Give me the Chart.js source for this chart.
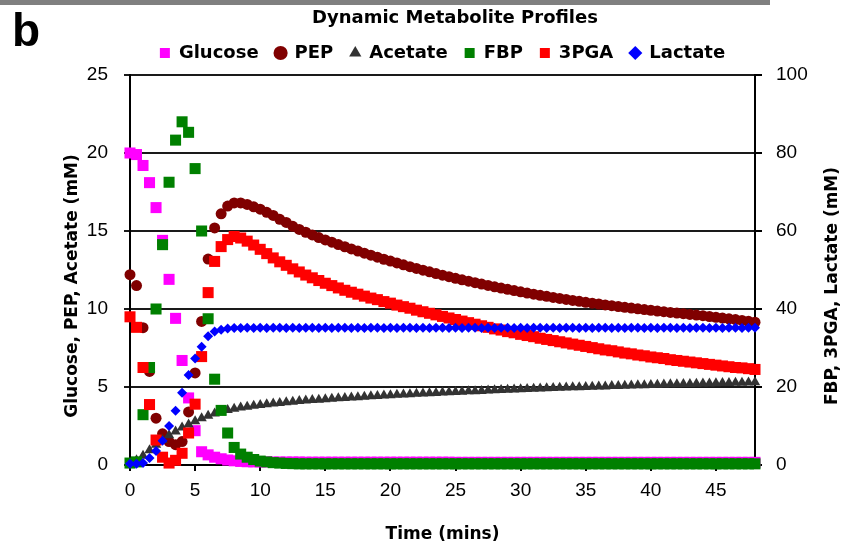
<!DOCTYPE html>
<html>
<head>
<meta charset="utf-8">
<title>Dynamic Metabolite Profiles</title>
<script src="https://cdn.jsdelivr.net/npm/chart.js@4.4.0/dist/chart.umd.min.js"></script>
<style>
  html, body { margin: 0; padding: 0; background: #fff; }
  #chart { display: block; }
</style>
</head>
<body>
<canvas id="chart" width="851" height="548"></canvas>
<script>
// sampling times (mins)
var times = [
  0, 0.5, 1, 1.5, 2, 2.5, 3, 3.5, 4, 4.5,
  5, 5.5, 6, 6.5, 7, 7.5, 8, 8.5, 9, 9.5,
  10, 10.5, 11, 11.5, 12, 12.5, 13, 13.5, 14, 14.5,
  15, 15.5, 16, 16.5, 17, 17.5, 18, 18.5, 19, 19.5,
  20, 20.5, 21, 21.5, 22, 22.5, 23, 23.5, 24, 24.5,
  25, 25.5, 26, 26.5, 27, 27.5, 28, 28.5, 29, 29.5,
  30, 30.5, 31, 31.5, 32, 32.5, 33, 33.5, 34, 34.5,
  35, 35.5, 36, 36.5, 37, 37.5, 38, 38.5, 39, 39.5,
  40, 40.5, 41, 41.5, 42, 42.5, 43, 43.5, 44, 44.5,
  45, 45.5, 46, 46.5, 47, 47.5, 48
];

// left axis (mM)
var glucose = [
  20.0, 19.9, 19.2, 18.1, 16.5, 14.4, 11.9, 9.4, 6.7, 4.3,
  2.2, 0.85, 0.65, 0.5, 0.4, 0.32, 0.27, 0.23, 0.21, 0.2,
  0.2, 0.2, 0.19, 0.19, 0.19, 0.19, 0.19, 0.18, 0.18, 0.18,
  0.18, 0.18, 0.18, 0.18, 0.18, 0.18, 0.18, 0.18, 0.18, 0.18,
  0.18, 0.18, 0.18, 0.18, 0.18, 0.18, 0.18, 0.18, 0.18, 0.18,
  0.17, 0.17, 0.17, 0.17, 0.17, 0.17, 0.17, 0.17, 0.17, 0.17,
  0.17, 0.17, 0.17, 0.17, 0.17, 0.17, 0.17, 0.17, 0.17, 0.17,
  0.17, 0.17, 0.17, 0.17, 0.17, 0.17, 0.17, 0.17, 0.17, 0.17,
  0.17, 0.17, 0.17, 0.17, 0.17, 0.17, 0.17, 0.17, 0.17, 0.17,
  0.17, 0.17, 0.17, 0.17, 0.17, 0.17, 0.17
];
var pep = [
  12.2, 11.5, 8.8, 6.0, 3.0, 2.0, 1.5, 1.3, 1.5, 3.4,
  5.9, 9.2, 13.2, 15.2, 16.1, 16.6, 16.8, 16.8, 16.7, 16.55,
  16.4, 16.2, 16.0, 15.75, 15.55, 15.3, 15.1, 14.92, 14.75, 14.58,
  14.43, 14.28, 14.13, 13.99, 13.85, 13.71, 13.58, 13.45, 13.32, 13.19,
  13.07, 12.95, 12.83, 12.71, 12.6, 12.49, 12.38, 12.27, 12.17, 12.07,
  11.97, 11.87, 11.78, 11.69, 11.6, 11.51, 11.42, 11.34, 11.26, 11.18,
  11.1, 11.02, 10.95, 10.88, 10.81, 10.74, 10.68, 10.61, 10.55, 10.49,
  10.43, 10.37, 10.32, 10.26, 10.21, 10.16, 10.11, 10.06, 10.01, 9.96,
  9.92, 9.87, 9.83, 9.78, 9.74, 9.7, 9.65, 9.61, 9.57, 9.52,
  9.47, 9.42, 9.37, 9.32, 9.27, 9.21, 9.15
];
var acetate = [
  0.1, 0.3, 0.6, 0.95, 1.3, 1.6, 1.9, 2.15, 2.4, 2.6,
  2.8, 3.0, 3.15, 3.3, 3.42, 3.52, 3.6, 3.68, 3.74, 3.8,
  3.85, 3.9, 3.94, 3.98, 4.02, 4.06, 4.1, 4.13, 4.16, 4.19,
  4.22, 4.25, 4.28, 4.3, 4.33, 4.35, 4.38, 4.4, 4.43, 4.45,
  4.47, 4.5, 4.52, 4.54, 4.56, 4.58, 4.6, 4.62, 4.64, 4.66,
  4.68, 4.7, 4.72, 4.73, 4.75, 4.77, 4.79, 4.8, 4.82, 4.84,
  4.85, 4.87, 4.88, 4.9, 4.92, 4.93, 4.95, 4.96, 4.98, 4.99,
  5.0, 5.02, 5.03, 5.04, 5.06, 5.07, 5.08, 5.1, 5.11, 5.12,
  5.13, 5.15, 5.16, 5.17, 5.18, 5.19, 5.2, 5.21, 5.22, 5.23,
  5.24, 5.25, 5.26, 5.27, 5.28, 5.29, 5.3
];

// right axis (mM)
var fbp = [
  0.5, 0.8, 12.9, 25.0, 40.0, 56.5, 72.5, 83.3, 88.0, 85.3,
  76.0, 60.0, 37.5, 22.0, 14.0, 8.2, 4.5, 2.8, 2.0, 1.4,
  1.0, 0.8, 0.6, 0.5, 0.4, 0.35, 0.3, 0.3, 0.3, 0.3,
  0.3, 0.3, 0.3, 0.3, 0.3, 0.3, 0.3, 0.3, 0.3, 0.3,
  0.3, 0.3, 0.3, 0.3, 0.3, 0.3, 0.3, 0.3, 0.3, 0.3,
  0.3, 0.3, 0.3, 0.3, 0.3, 0.3, 0.3, 0.3, 0.3, 0.3,
  0.3, 0.3, 0.3, 0.3, 0.3, 0.3, 0.3, 0.3, 0.3, 0.3,
  0.3, 0.3, 0.3, 0.3, 0.3, 0.3, 0.3, 0.3, 0.3, 0.3,
  0.3, 0.3, 0.3, 0.3, 0.3, 0.3, 0.3, 0.3, 0.3, 0.3,
  0.3, 0.3, 0.3, 0.3, 0.3, 0.3, 0.3
];
var pga3 = [
  38.0, 35.3, 25.0, 15.5, 6.4, 2.0, 0.5, 1.2, 3.0, 8.2,
  15.6, 27.8, 44.2, 52.2, 56.0, 57.8, 58.6, 58.2, 57.4, 56.4,
  55.3, 54.2, 53.1, 52.1, 51.2, 50.3, 49.5, 48.7, 48.0, 47.3,
  46.6, 46.0, 45.4, 44.8, 44.3, 43.8, 43.3, 42.8, 42.4, 41.9,
  41.5, 41.0, 40.6, 40.2, 39.7, 39.3, 38.9, 38.5, 38.1, 37.7,
  37.3, 36.9, 36.5, 36.1, 35.7, 35.3, 34.9, 34.6, 34.2, 33.9,
  33.5, 33.2, 32.9, 32.5, 32.2, 31.9, 31.6, 31.3, 31.0, 30.7,
  30.4, 30.1, 29.8, 29.5, 29.3, 29.0, 28.7, 28.5, 28.2, 28.0,
  27.7, 27.5, 27.3, 27.0, 26.8, 26.6, 26.4, 26.2, 26.0, 25.8,
  25.6, 25.4, 25.2, 25.0, 24.9, 24.7, 24.5
];
var lactate = [
  0.3, 0.3, 0.5, 1.8, 3.6, 6.2, 10.0, 13.9, 18.5, 23.1,
  27.3, 30.3, 33.0, 34.2, 34.7, 35.0, 35.1, 35.1, 35.2, 35.1,
  35.2, 35.1, 35.2, 35.2, 35.1, 35.2, 35.1, 35.2, 35.2, 35.1,
  35.2, 35.1, 35.2, 35.2, 35.1, 35.2, 35.1, 35.2, 35.2, 35.1,
  35.2, 35.1, 35.2, 35.2, 35.1, 35.2, 35.1, 35.2, 35.2, 35.1,
  35.2, 35.1, 35.2, 35.2, 35.1, 35.2, 35.1, 35.2, 35.2, 35.1,
  35.2, 35.1, 35.2, 35.2, 35.1, 35.2, 35.1, 35.2, 35.2, 35.1,
  35.2, 35.1, 35.2, 35.2, 35.1, 35.2, 35.1, 35.2, 35.2, 35.1,
  35.2, 35.1, 35.2, 35.2, 35.1, 35.2, 35.1, 35.2, 35.2, 35.1,
  35.2, 35.1, 35.2, 35.2, 35.1, 35.2, 35.2
];

var FONT = '"Liberation Sans", Arial, sans-serif';
var FONT_B = '"DejaVu Sans", sans-serif';

function pts(vals) {
  return vals.map(function (v, i) { return { x: times[i], y: v }; });
}

function series(label, vals, axis, style, radius, color, order) {
  return {
    label: label,
    data: pts(vals),
    yAxisID: axis,
    pointStyle: style,
    pointRadius: radius,
    pointHoverRadius: radius,
    backgroundColor: color,
    borderColor: color,
    pointBorderWidth: 0,
    borderWidth: 0,
    showLine: false,
    clip: false,
    order: order
  };
}

function rotatedText(ctx, text, x, y) {
  ctx.save();
  ctx.translate(x, y);
  ctx.rotate(-Math.PI / 2);
  ctx.textAlign = 'center';
  ctx.textBaseline = 'middle';
  ctx.fillText(text, 0, 0);
  ctx.restore();
}

// panel letter, grey rule, chart title and both axis titles (read bottom-to-top)
var extras = {
  id: 'extras',
  afterLayout: function (chart) {
    // keep the legend row a touch closer to the title
    chart.legend.top -= 3;
    chart.legend.bottom -= 3;
  },
  afterDraw: function (chart) {
    var ctx = chart.ctx;
    ctx.save();
    ctx.fillStyle = '#808080';
    ctx.fillRect(0, 0, 770, 5);
    ctx.fillStyle = '#000';
    ctx.font = 'bold 46px ' + FONT;
    ctx.textAlign = 'left';
    ctx.textBaseline = 'alphabetic';
    ctx.fillText('b', 12, 46);

    ctx.font = 'bold 18px ' + FONT_B;
    ctx.textAlign = 'center';
    ctx.textBaseline = 'middle';
    ctx.fillText('Dynamic Metabolite Profiles', 455, 18);

    ctx.font = 'bold 17px ' + FONT_B;
    rotatedText(ctx, 'Glucose, PEP, Acetate (mM)', 73, 286);
    rotatedText(ctx, 'FBP, 3PGA, Lactate (mM)', 833, 286);
    ctx.restore();
  }
};

var ctx = document.getElementById('chart').getContext('2d');
var chart = new Chart(ctx, {
  type: 'scatter',
  data: {
    datasets: [
      series('Glucose', glucose, 'yL', 'rect', 7.8, '#ff00ff', 6),
      series('PEP', pep, 'yL', 'circle', 5.5, '#800000', 5),
      series('Acetate', acetate, 'yL', 'triangle', 6, '#333333', 4),
      series('FBP', fbp, 'yR', 'rect', 7.8, '#008000', 3),
      series('3PGA', pga3, 'yR', 'rect', 7.8, '#ff0000', 2),
      series('Lactate', lactate, 'yR', 'rectRot', 5, '#0000ff', 1)
    ]
  },
  options: {
    responsive: false,
    animation: false,
    events: [],
    layout: { padding: 0 },
    plugins: {
      title: { display: false },
      legend: {
        fullSize: false,
        labels: {
          usePointStyle: true,
          boxWidth: 10,
          boxHeight: 10,
          padding: 17,
          color: '#000',
          font: { family: FONT_B, size: 18, weight: 'bold' },
          sort: function (a, b) { return a.datasetIndex - b.datasetIndex; }
        }
      },
      tooltip: { enabled: false }
    },
    scales: {
      x: {
        type: 'linear',
        position: 'bottom',
        min: 0,
        max: 48,
        ticks: {
          stepSize: 5,
          includeBounds: false,
          color: '#000',
          padding: 8,
          maxRotation: 0,
          font: { family: FONT, size: 19 }
        },
        grid: { display: true, drawOnChartArea: false, drawTicks: true, tickLength: 6, color: '#000', lineWidth: 2 },
        border: { color: '#000', width: 2 },
        title: {
          display: true,
          text: 'Time (mins)',
          color: '#000',
          font: { family: FONT_B, size: 17, weight: 'bold' },
          padding: { top: 0, bottom: 3 }
        },
        afterFit: function (s) { s.height = 83; }
      },
      yL: {
        type: 'linear',
        position: 'left',
        min: 0,
        max: 25,
        ticks: {
          stepSize: 5,
          color: '#000',
          padding: 16,
          font: { family: FONT, size: 19 }
        },
        grid: { display: true, drawOnChartArea: true, drawTicks: true, color: '#1a1a1a', lineWidth: 2, tickLength: 6 },
        border: { color: '#000', width: 2 },
        afterFit: function (s) { s.width = 130; s.paddingTop = 75; }
      },
      yR: {
        type: 'linear',
        position: 'right',
        min: 0,
        max: 100,
        ticks: {
          stepSize: 20,
          color: '#000',
          padding: 14,
          font: { family: FONT, size: 19 }
        },
        grid: { display: true, drawOnChartArea: false, drawTicks: true, tickLength: 7, color: '#000', lineWidth: 2 },
        border: { color: '#000', width: 2 },
        afterFit: function (s) { s.width = 96; }
      }
    }
  },
  plugins: [extras]
});
</script>
</body>
</html>
